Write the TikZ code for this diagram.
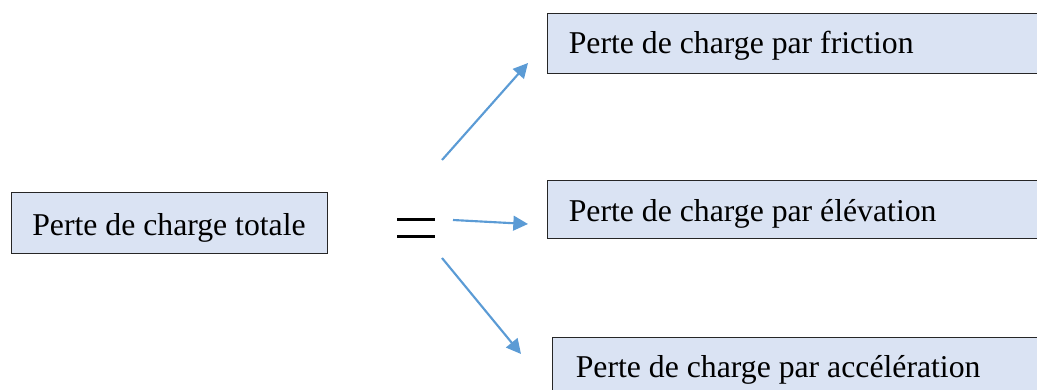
\documentclass[tikz,border=0pt]{standalone}
\usepackage{fontspec}
\setmainfont{Liberation Serif}
\usetikzlibrary{arrows.meta}
\definecolor{boxfill}{HTML}{DAE3F3}
\definecolor{arrowblue}{HTML}{5B9BD5}
\begin{document}
\begin{tikzpicture}[x=0.75pt,y=-0.75pt,
  box/.style={draw=black!85, line width=0.75pt, fill=boxfill, inner ysep=0pt,
    font=\fontsize{23.8}{28}\selectfont},
  flow/.style={draw=arrowblue, line width=1.6pt, -{Triangle[length=11pt,width=11pt]}},
  eqbar/.style={fill=black, draw=none}]
\useasboundingbox (0,0) rectangle (1037,389);
% boxes
\node[box, minimum width=237pt, minimum height=45.75pt, text height=20.5pt, text depth=1.75pt, inner xsep=0pt]
  (total) at (169,222.5) {Perte de charge totale};
\node[box, anchor=north west, minimum width=390pt, minimum height=45pt, text width=358pt, align=flush left,
  inner xsep=15.75pt, text height=19pt, text depth=4pt] (fric) at (547,13) {Perte de charge par friction};
\node[box, anchor=north west, minimum width=390pt, minimum height=43.5pt, text width=358pt, align=flush left,
  inner xsep=15.75pt, text height=20pt, text depth=2pt] (elev) at (547,180) {Perte de charge par élévation};
\node[box, anchor=north west, minimum width=390pt, minimum height=45pt, text width=355pt, align=flush left,
  inner xsep=17.25pt, text height=19pt, text depth=4pt] (acc) at (552,337) {Perte de charge par accélération};
% equals sign
\coordinate (eqA1) at (397,217.5); \coordinate (eqB1) at (435,220.5);
\coordinate (eqA2) at (397,234.5); \coordinate (eqB2) at (435,237.5);
\path[eqbar] (eqA1) rectangle (eqB1);
\path[eqbar] (eqA2) rectangle (eqB2);
% arrows
\coordinate (s1) at (442,160); \coordinate (t1) at (528,63);
\coordinate (s2) at (453,220); \coordinate (t2) at (528,224);
\coordinate (s3) at (442,258); \coordinate (t3) at (521,354);
\draw[flow] (s1) -- (t1);
\draw[flow] (s2) -- (t2);
\draw[flow] (s3) -- (t3);
\end{tikzpicture}
\end{document}
